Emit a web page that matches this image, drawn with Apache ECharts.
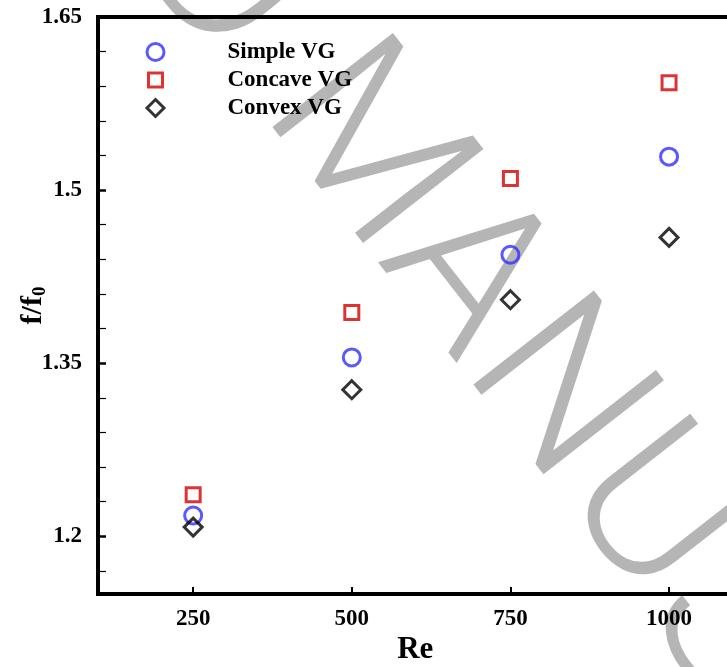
<!DOCTYPE html>
<html>
<head>
<meta charset="utf-8">
<title>f/f0 vs Re</title>
<script src="https://cdn.jsdelivr.net/npm/echarts@6/dist/echarts.min.js"></script>
<style>
  html, body { margin: 0; padding: 0; background: #fff; }
  #chart { width: 727px; height: 667px; }
</style>
</head>
<body>
<div id="chart"></div>
<script>
// Reynolds numbers (x) and friction factor ratio f/f0 for each vortex generator shape
const reValues = [250, 500, 750, 1000];
const simpleVG = [1.218, 1.355, 1.444, 1.529];
const concaveVG = [1.236, 1.394, 1.510, 1.593];
const convexVG = [1.208, 1.327, 1.405, 1.459];

// Axis ticks
const xTicks = [250, 500, 750, 1000];
const yTicks = [1.2, 1.35, 1.5, 1.65];
const yMinorTicks = [1.17, 1.23, 1.26, 1.29, 1.32, 1.38, 1.41, 1.44, 1.47, 1.53, 1.56, 1.59, 1.62];

const seriesNames = ['Simple VG', 'Concave VG', 'Convex VG'];
const seriesColors = ['#2f2fff', '#d60000', '#000000'];

// Diagonal "ACCEPTED MANUSCRIPT" stamp, one glyph per entry with its offset along the baseline
const stampLetters = ['D', 'M', 'A', 'N', 'U', 'S', 'C', 'R', 'I', 'P', 'T'];
const stampOffsets = [-225, 0, 162, 310, 463, 602, 752, 897, 1012, 1112, 1242];
const stampRise = [8, 0, 0, 0, 0, 9, 9, 9, 9, 9, 9];

const FONT = '"Liberation Serif", "Times New Roman", serif';
const GRID = { left: 98, top: 17, right: -5.5, bottom: 73, outerBoundsMode: 'none' };

const pairs = (ys) => reValues.map((x, i) => [x, ys[i]]);

const hollow = (color) => ({ color: 'rgba(0,0,0,0)', borderColor: color, borderWidth: 3 });

function legendFor(idx, top, size) {
  return {
    data: [seriesNames[idx]],
    orient: 'vertical',
    left: 154 - size / 2,
    top: top - 14,
    padding: 0,
    itemWidth: size,
    itemHeight: size,
    itemGap: 0,
    selectedMode: false,
    itemStyle: hollow(seriesColors[idx]),
    textStyle: {
      fontFamily: FONT, fontWeight: 'bold', fontSize: 23, color: '#000',
      lineHeight: 28, padding: [0, 0, 0, 67 - size / 2]
    }
  };
}

const chart = echarts.init(document.getElementById('chart'), null, { renderer: 'canvas' });

chart.setOption({
  backgroundColor: '#fff',
  animation: false,
  graphic: {
    elements: [{
      type: 'group',
      x: 360, y: 152,
      rotation: -52 * Math.PI / 180,
      z: -10,
      silent: true,
      children: stampLetters.map((ch, i) => ({
        type: 'text', z: -10,
        style: { text: ch, x: stampOffsets[i], y: stampRise[i], fill: '#b5b5b5',
                 font: '300 215px Roboto', align: 'center', verticalAlign: 'middle' }
      }))
    }]
  },
  legend: [legendFor(0, 52, 17), legendFor(1, 80, 14), legendFor(2, 108, 17)],
  grid: [
    Object.assign({ show: true, borderColor: '#000', borderWidth: 4, backgroundColor: 'transparent' }, GRID),
    Object.assign({ show: false }, GRID)
  ],
  xAxis: [
    {
      type: 'value', gridIndex: 0, min: 100, max: 1100,
      name: 'Re', nameLocation: 'middle', nameGap: 40, nameMoveOverlap: false,
      nameTextStyle: { fontFamily: FONT, fontWeight: 'bold', fontSize: 31, color: '#000' },
      axisLine: { show: true, lineStyle: { color: '#000', width: 4 } },
      axisTick: { show: true, inside: true, length: 7, lineStyle: { color: '#000', width: 2 }, customValues: xTicks },
      axisLabel: { fontFamily: FONT, fontWeight: 'bold', fontSize: 23, color: '#000', margin: 14,
                   customValues: xTicks, formatter: (v) => String(v) },
      splitLine: { show: false }
    },
    { type: 'value', gridIndex: 1, min: 100, max: 1100, show: false }
  ],
  yAxis: [
    {
      type: 'value', gridIndex: 0, min: 1.15, max: 1.65,
      name: 'f/f{sub|0}', nameLocation: 'middle', nameGap: 48, nameRotate: 90, nameMoveOverlap: false,
      nameTextStyle: {
        fontFamily: FONT, fontWeight: 'bold', fontSize: 30, color: '#000',
        rich: { sub: { fontFamily: FONT, fontWeight: 'bold', fontSize: 19, color: '#000', verticalAlign: 'bottom', padding: [14, 0, 0, 0] } }
      },
      axisLine: { show: true, lineStyle: { color: '#000', width: 4 } },
      axisTick: { show: true, inside: true, length: 8, lineStyle: { color: '#000', width: 2.5 }, customValues: yTicks },
      axisLabel: { fontFamily: FONT, fontWeight: 'bold', fontSize: 23, color: '#000', margin: 16, customValues: yTicks },
      splitLine: { show: false }
    },
    {
      type: 'value', gridIndex: 1, min: 1.15, max: 1.65, position: 'left',
      axisLine: { show: false },
      axisTick: { show: true, inside: true, length: 8, lineStyle: { color: '#000', width: 1.2 }, customValues: yMinorTicks },
      axisLabel: { show: false },
      splitLine: { show: false }
    }
  ],
  series: [
    {
      name: seriesNames[0], type: 'scatter', symbol: 'circle', symbolSize: 17,
      itemStyle: hollow(seriesColors[0]), data: pairs(simpleVG), z: 3
    },
    {
      name: seriesNames[1], type: 'scatter', symbol: 'rect', symbolSize: 14,
      itemStyle: hollow(seriesColors[1]), data: pairs(concaveVG), z: 3
    },
    {
      name: seriesNames[2], type: 'scatter', symbol: 'diamond', symbolSize: 18,
      itemStyle: hollow(seriesColors[2]), data: pairs(convexVG), z: 3
    }
  ]
});
</script>
</body>
</html>
